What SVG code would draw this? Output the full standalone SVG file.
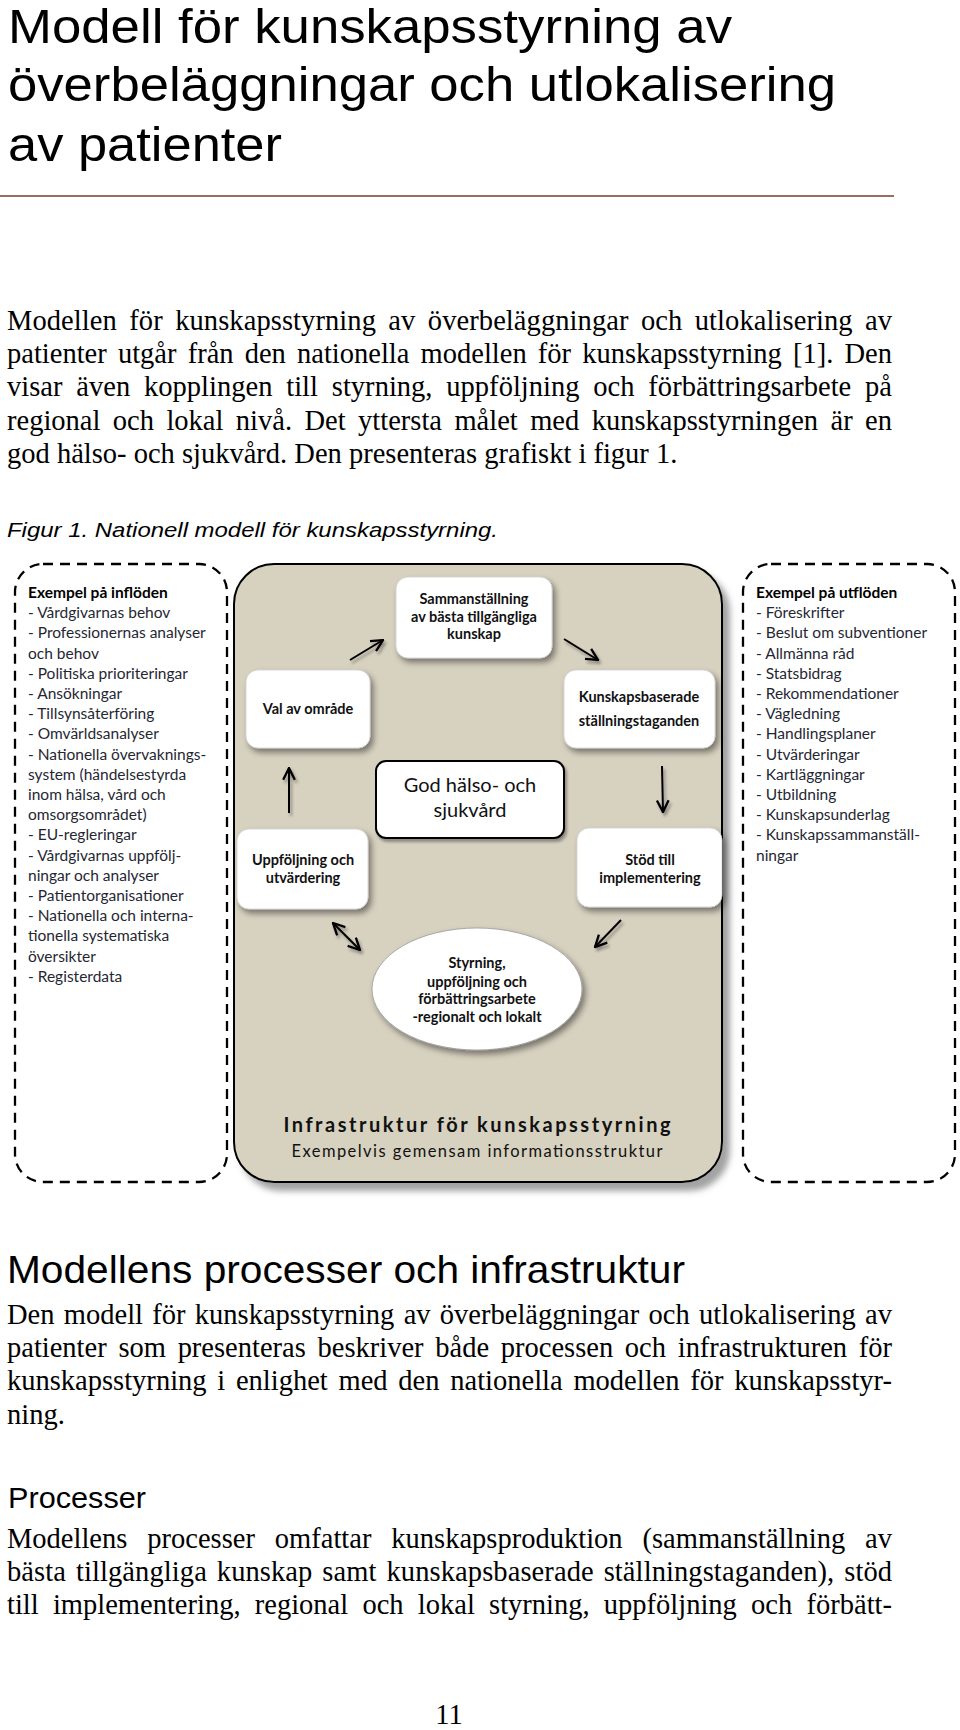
<svg xmlns="http://www.w3.org/2000/svg" width="960" height="1730" viewBox="0 0 960 1730">
<defs>
<style>
.title{font-family:"Liberation Sans",Arial,sans-serif;font-size:47.5px;fill:#000}
.h2{font-family:"Liberation Sans",Arial,sans-serif;fill:#000}
.body{font-family:"Liberation Serif","Times New Roman",serif;font-size:28.5px;fill:#000}
.cap{font-family:"Liberation Sans",Arial,sans-serif;font-style:italic;font-size:21px;fill:#000}
.lst{font-family:Lato,"Open Sans",sans-serif;font-size:15.5px;fill:#1f2733}
.lsth{font-weight:bold;fill:#000}
.nd{font-family:Lato,"Open Sans",sans-serif;font-weight:bold;font-size:14.5px;fill:#111;text-anchor:middle}
.ndr{font-family:Lato,"Open Sans",sans-serif;font-size:20px;fill:#111;text-anchor:middle}
.box{fill:#fff;stroke:#cfcfcf;stroke-width:0.8}
.dash{fill:#fff;stroke:#000;stroke-width:2.3;stroke-dasharray:10 7}
.arr{stroke:#000;stroke-width:2;fill:none}
</style>
<filter id="sh" x="-20%" y="-20%" width="150%" height="160%"><feDropShadow dx="3" dy="4" stdDeviation="3" flood-color="#000" flood-opacity="0.45"/></filter>
<filter id="shb" x="-10%" y="-10%" width="130%" height="130%"><feDropShadow dx="7" dy="8" stdDeviation="3" flood-color="#555" flood-opacity="0.55"/></filter>
<filter id="sha" x="-50%" y="-50%" width="200%" height="200%"><feDropShadow dx="2" dy="3" stdDeviation="1.5" flood-color="#000" flood-opacity="0.35"/></filter>
<marker id="ah" viewBox="0 0 12 12" refX="11" refY="6" markerWidth="14" markerHeight="14" orient="auto-start-reverse" markerUnits="userSpaceOnUse"><path d="M1,1 L11,6 L1,11" fill="none" stroke="#000" stroke-width="2"/></marker>
</defs>
<rect x="0" y="0" width="960" height="1730" fill="#fff"/>

<g id="page-title">
<text class="title" x="8" y="43" textLength="724" lengthAdjust="spacingAndGlyphs">Modell för kunskapsstyrning av</text>
<text class="title" x="8" y="101" textLength="828" lengthAdjust="spacingAndGlyphs">överbeläggningar och utlokalisering</text>
<text class="title" x="8" y="161" textLength="274" lengthAdjust="spacingAndGlyphs">av patienter</text>
<line x1="0" y1="196" x2="894" y2="196" stroke="#7a3b2e" stroke-width="1.5"/>
</g>

<g id="intro-text" class="body">
<text x="7" y="330" word-spacing="5.2" textLength="885" lengthAdjust="spacing">Modellen för kunskapsstyrning av överbeläggningar och utlokalisering av</text>
<text x="7" y="363" word-spacing="4" textLength="885" lengthAdjust="spacing">patienter utgår från den nationella modellen för kunskapsstyrning [1]. Den</text>
<text x="7" y="396" word-spacing="6.7" textLength="885" lengthAdjust="spacing">visar även kopplingen till styrning, uppföljning och förbättringsarbete på</text>
<text x="7" y="430" word-spacing="5.3" textLength="885" lengthAdjust="spacing">regional och lokal nivå. Det yttersta målet med kunskapsstyrningen är en</text>
<text x="7" y="463">god hälso- och sjukvård. Den presenteras grafiskt i figur 1.</text>
</g>
<text class="cap" x="7" y="537" textLength="491" lengthAdjust="spacingAndGlyphs">Figur 1. Nationell modell för kunskapsstyrning.</text>

<g id="inflows">
<rect class="dash" x="15" y="564" width="212" height="618" rx="28"/>
<text class="lst" x="28" y="598">
<tspan class="lsth">Exempel på inflöden</tspan>
<tspan x="28" dy="20.2">- Vårdgivarnas behov</tspan>
<tspan x="28" dy="20.2">- Professionernas analyser</tspan>
<tspan x="28" dy="20.2">och behov</tspan>
<tspan x="28" dy="20.2">- Politiska prioriteringar</tspan>
<tspan x="28" dy="20.2">- Ansökningar</tspan>
<tspan x="28" dy="20.2">- Tillsynsåterföring</tspan>
<tspan x="28" dy="20.2">- Omvärldsanalyser</tspan>
<tspan x="28" dy="20.2">- Nationella övervaknings-</tspan>
<tspan x="28" dy="20.2">system (händelsestyrda</tspan>
<tspan x="28" dy="20.2">inom hälsa, vård och</tspan>
<tspan x="28" dy="20.2">omsorgsområdet)</tspan>
<tspan x="28" dy="20.2">- EU-regleringar</tspan>
<tspan x="28" dy="20.2">- Vårdgivarnas uppfölj-</tspan>
<tspan x="28" dy="20.2">ningar och analyser</tspan>
<tspan x="28" dy="20.2">- Patientorganisationer</tspan>
<tspan x="28" dy="20.2">- Nationella och interna-</tspan>
<tspan x="28" dy="20.2">tionella systematiska</tspan>
<tspan x="28" dy="20.2">översikter</tspan>
<tspan x="28" dy="20.2">- Registerdata</tspan>
</text>
</g>

<g id="outflows">
<rect class="dash" x="743" y="564" width="212" height="618" rx="28"/>
<text class="lst" x="756" y="598">
<tspan class="lsth">Exempel på utflöden</tspan>
<tspan x="756" dy="20.2">- Föreskrifter</tspan>
<tspan x="756" dy="20.2">- Beslut om subventioner</tspan>
<tspan x="756" dy="20.2">- Allmänna råd</tspan>
<tspan x="756" dy="20.2">- Statsbidrag</tspan>
<tspan x="756" dy="20.2">- Rekommendationer</tspan>
<tspan x="756" dy="20.2">- Vägledning</tspan>
<tspan x="756" dy="20.2">- Handlingsplaner</tspan>
<tspan x="756" dy="20.2">- Utvärderingar</tspan>
<tspan x="756" dy="20.2">- Kartläggningar</tspan>
<tspan x="756" dy="20.2">- Utbildning</tspan>
<tspan x="756" dy="20.2">- Kunskapsunderlag</tspan>
<tspan x="756" dy="20.2">- Kunskapssammanställ-</tspan>
<tspan x="756" dy="20.2">ningar</tspan>
</text>
</g>

<g id="infrastructure">
<rect x="234" y="564" width="488" height="618" rx="40" fill="#d7d1c0" stroke="#000" stroke-width="2" filter="url(#shb)"/>
<text x="477" y="1132" text-anchor="middle" font-family="Lato,'Open Sans',sans-serif" font-weight="bold" font-size="20px" fill="#111" textLength="387" lengthAdjust="spacing">Infrastruktur för kunskapsstyrning</text>
<text x="477" y="1157" text-anchor="middle" font-family="Lato,'Open Sans',sans-serif" font-size="16.5px" fill="#111" textLength="371" lengthAdjust="spacing">Exempelvis gemensam informationsstruktur</text>
</g>

<g id="n-sammanstallning">
<rect class="box" x="396" y="577" width="156" height="81" rx="12" filter="url(#sh)"/>
<text class="nd" x="474" y="604">Sammanställning</text>
<text class="nd" x="474" y="622">av bästa tillgängliga</text>
<text class="nd" x="474" y="639">kunskap</text>
</g>

<g id="n-val">
<rect class="box" x="246" y="670" width="124" height="78" rx="12" filter="url(#sh)"/>
<text class="nd" x="308" y="714">Val av område</text>
</g>

<g id="n-kunskapsbaserade">
<rect class="box" x="564" y="670" width="151" height="78" rx="12" filter="url(#sh)"/>
<text class="nd" x="639" y="702">Kunskapsbaserade</text>
<text class="nd" x="639" y="726">ställningstaganden</text>
</g>

<g id="n-god">
<rect x="376" y="761" width="188" height="77" rx="10" fill="#fff" stroke="#000" stroke-width="2" filter="url(#sha)"/>
<text class="ndr" x="470" y="792">God hälso- och</text>
<text class="ndr" x="470" y="817">sjukvård</text>
</g>

<g id="n-uppfoljning">
<rect class="box" x="237" y="829" width="131" height="80" rx="12" filter="url(#sh)"/>
<text class="nd" x="303" y="865">Uppföljning och</text>
<text class="nd" x="303" y="883">utvärdering</text>
</g>

<g id="n-stod">
<rect class="box" x="577" y="828" width="145" height="79" rx="12" filter="url(#sh)"/>
<text class="nd" x="650" y="865">Stöd till</text>
<text class="nd" x="650" y="883">implementering</text>
</g>

<g id="n-styrning">
<ellipse cx="477" cy="989" rx="105" ry="61" fill="#fff" stroke="#999" stroke-width="0.8" filter="url(#sh)"/>
<text class="nd" x="477" y="968">Styrning,</text>
<text class="nd" x="477" y="987">uppföljning och</text>
<text class="nd" x="477" y="1004">förbättringsarbete</text>
<text class="nd" x="477" y="1022">-regionalt och lokalt</text>
</g>

<g id="connectors" class="arr" filter="url(#sha)">
<line x1="350" y1="660" x2="383" y2="640" marker-end="url(#ah)"/>
<line x1="564" y1="639" x2="598" y2="660" marker-end="url(#ah)"/>
<line x1="662" y1="766" x2="663" y2="812" marker-end="url(#ah)"/>
<line x1="621" y1="920" x2="595" y2="947" marker-end="url(#ah)"/>
<line x1="333" y1="923" x2="360" y2="950" marker-start="url(#ah)" marker-end="url(#ah)"/>
<line x1="289" y1="813" x2="289" y2="768" marker-end="url(#ah)"/>
</g>

<g id="section-text">
<text class="h2" x="7" y="1283" font-size="39px" textLength="678" lengthAdjust="spacingAndGlyphs">Modellens processer och infrastruktur</text>
<text class="body" x="7" y="1324" word-spacing="2.2" textLength="885" lengthAdjust="spacing">Den modell för kunskapsstyrning av överbeläggningar och utlokalisering av</text>
<text class="body" x="7" y="1357" word-spacing="4.6" textLength="885" lengthAdjust="spacing">patienter som presenteras beskriver både processen och infrastrukturen för</text>
<text class="body" x="7" y="1390" word-spacing="3.6" textLength="885" lengthAdjust="spacing">kunskapsstyrning i enlighet med den nationella modellen för kunskapsstyr-</text>
<text class="body" x="7" y="1424">ning.</text>
<text class="h2" x="8" y="1508" font-size="30px" textLength="138" lengthAdjust="spacingAndGlyphs">Processer</text>
<text class="body" x="7" y="1548" word-spacing="12.8" textLength="885" lengthAdjust="spacing">Modellens processer omfattar kunskapsproduktion (sammanställning av</text>
<text class="body" x="7" y="1581" word-spacing="2.7" textLength="885" lengthAdjust="spacing">bästa tillgängliga kunskap samt kunskapsbaserade ställningstaganden), stöd</text>
<text class="body" x="7" y="1614" word-spacing="7.1" textLength="885" lengthAdjust="spacing">till implementering, regional och lokal styrning, uppföljning och förbätt-</text>
<text class="body" x="449" y="1724" text-anchor="middle" font-size="26px">11</text>
</g>
</svg>
